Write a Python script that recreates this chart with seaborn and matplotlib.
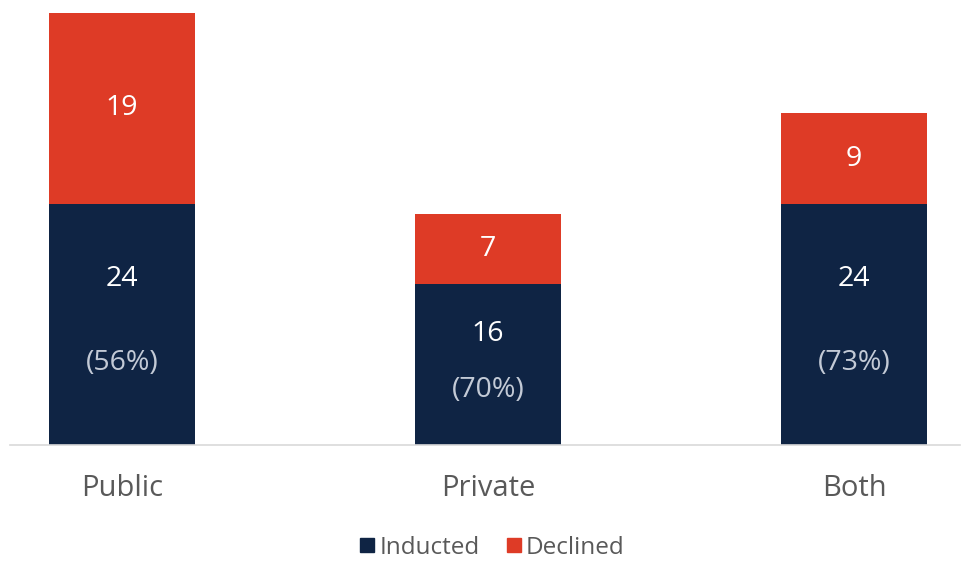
import matplotlib
matplotlib.use("Agg")
import matplotlib.pyplot as plt
from matplotlib.lines import Line2D
import pandas as pd
import seaborn as sns

categories = ["Public", "Private", "Both"]
inducted = [24, 16, 24]
declined = [19, 7, 9]
percent_labels = ["(56%)", "(70%)", "(73%)"]

NAVY = "#0f2444"
RED = "#de3b26"

sns.set_style("white")
plt.rcParams["font.family"] = ["Open Sans", "DejaVu Sans"]

df = pd.DataFrame({"category": categories, "inducted": inducted, "declined": declined})
df["total"] = df["inducted"] + df["declined"]

fig = plt.figure(figsize=(9.61, 5.63), dpi=100)
ax = fig.add_axes([10 / 961, 1 - 445 / 563, 950 / 961, 445 / 563])

sns.barplot(data=df, x="category", y="total", color=RED, width=0.4, saturation=1,
            linewidth=0, ax=ax)
sns.barplot(data=df, x="category", y="inducted", color=NAVY, width=0.4, saturation=1,
            linewidth=0, ax=ax)

ax.set_xlim(-112 / 366, 2 + 106 / 366)
ax.set_ylim(0, 43 * 445 / 432)

for i, row in df.iterrows():
    ax.text(i, row["inducted"] + row["declined"] / 2, str(row["declined"]),
            ha="center", va="center", color="white", fontsize=20.5)
    ax.text(i, row["inducted"] * 0.69, str(row["inducted"]),
            ha="center", va="center", color="white", fontsize=20.5)
    ax.text(i, row["inducted"] * 0.34, percent_labels[i],
            ha="center", va="center", color="#c3cad6", fontsize=20.5)

ax.set_xlabel("")
ax.set_ylabel("")
ax.set_yticks([])
ax.tick_params(axis="x", length=0, pad=21, labelsize=21, labelcolor="#595959")
for side in ["top", "left", "right"]:
    ax.spines[side].set_visible(False)
ax.spines["bottom"].set_color("#d9d9d9")
ax.spines["bottom"].set_linewidth(1.2)

handles = [
    Line2D([], [], marker="s", linestyle="none", markersize=10, color=NAVY),
    Line2D([], [], marker="s", linestyle="none", markersize=10, color=RED),
]
fig.legend(handles, ["Inducted", "Declined"], loc="center", bbox_to_anchor=(490 / 961, 1 - 548 / 563),
           ncol=2, frameon=False, fontsize=17.5, handletextpad=0.0, columnspacing=0.9,
           handlelength=1.0, labelcolor="#595959")

fig.savefig("out.png", dpi=100)
